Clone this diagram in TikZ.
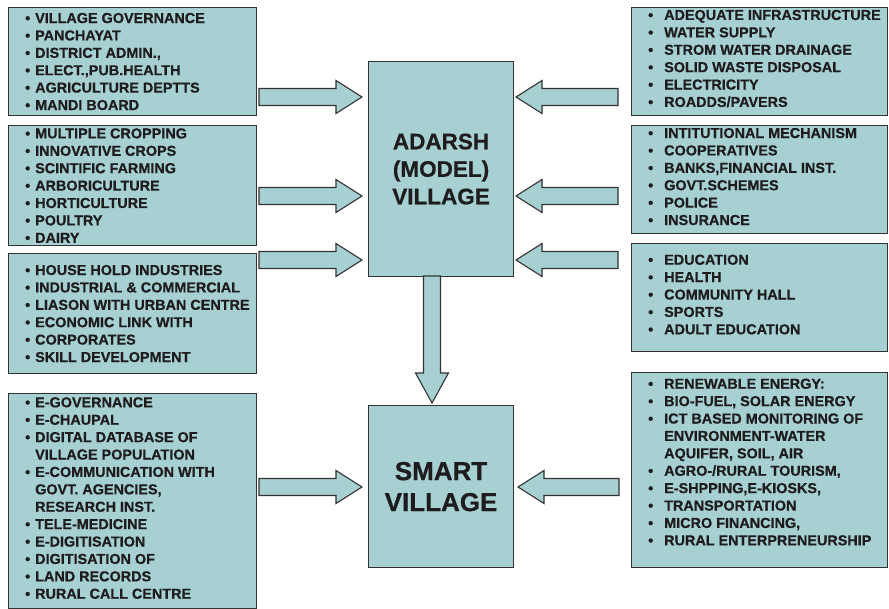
\documentclass[tikz,border=0pt]{standalone}
\usepackage{fontspec}
\setmainfont{Liberation Sans}[BoldFeatures={FakeBold=0.6}]
\usetikzlibrary{calc,positioning}
\definecolor{boxfill}{HTML}{A7D0D3}
\definecolor{edge}{HTML}{333333}
\definecolor{ink}{HTML}{1E1C1D}
\newcommand\lbul{\makebox[10pt][l]{\textbullet}}
\newcommand\lgap{\hspace*{10pt}}
\newcommand\rbul{\makebox[16pt][l]{\textbullet}}
\newcommand\rgap{\hspace*{16pt}}
\newcommand\blockarrow[3][26pt]{%
    \path ($(#3)!#1!(#2)$) coordinate (hb);
    \draw[blockarr] ($(#2)!8.5pt!90:(#3)$) -- ($(hb)!8.5pt!90:(#3)$)
        -- ($(hb)!16.5pt!90:(#3)$) -- (#3) -- ($(hb)!16.5pt!-90:(#3)$)
        -- ($(hb)!8.5pt!-90:(#3)$) -- ($(#2)!8.5pt!-90:(#3)$) -- cycle;}
\tikzset{
    listbox/.style =    {rectangle,
                        fill=boxfill,
                        draw=edge,
                        line width=1.1pt,
                        anchor=north west,
                        inner sep=0pt},
    listtext/.style =   {anchor=west,
                        align=left,
                        inner sep=0pt,
                        text=ink,
                        font=\fontsize{14.4}{17.4}\selectfont\bfseries},
    hub/.style =        {rectangle,
                        fill=boxfill,
                        draw=edge,
                        line width=1.1pt,
                        text=ink,
                        align=center,
                        minimum width=145pt},
    blockarr/.style =   {fill=boxfill,
                        draw=edge,
                        line width=1.1pt,
                        line join=miter}}
\begin{document}
\begin{tikzpicture}[x=1pt,y=-1pt]
    \useasboundingbox (0,0) rectangle (889,609);
    % left column
    \node[listbox, minimum width=248pt, minimum height=108pt] (gov)    at (8,7)   {};
    \node[listbox, minimum width=248pt, minimum height=120pt] (farm)   at (8,125) {};
    \node[listbox, minimum width=248pt, minimum height=120pt] (indus)  at (8,253) {};
    \node[listbox, minimum width=248pt, minimum height=215pt] (egov)   at (8,393) {};
    % right column
    \node[listbox, minimum width=256pt, minimum height=108pt] (infra)  at (631,7)   {};
    \node[listbox, minimum width=256pt, minimum height=108pt] (inst)   at (631,125) {};
    \node[listbox, minimum width=256pt, minimum height=108pt] (social) at (631,243) {};
    \node[listbox, minimum width=256pt, minimum height=195pt] (energy) at (631,372) {};
    % lists
    \node[listtext] (govtxt) at ($(gov.west)+(17,0)$)
        {\lbul VILLAGE GOVERNANCE\\ \lbul PANCHAYAT\\ \lbul DISTRICT ADMIN.,\\
         \lbul ELECT.,PUB.HEALTH\\ \lbul AGRICULTURE DEPTTS\\ \lbul MANDI BOARD};
    \node[listtext] (farmtxt) at ($(farm.west)+(17,0)$)
        {\lbul MULTIPLE CROPPING\\ \lbul INNOVATIVE CROPS\\ \lbul SCINTIFIC FARMING\\
         \lbul ARBORICULTURE\\ \lbul HORTICULTURE\\ \lbul POULTRY\\ \lbul DAIRY};
    \node[listtext] (industxt) at ($(indus.west)+(17,0)$)
        {\lbul HOUSE HOLD INDUSTRIES\\ \lbul INDUSTRIAL \& COMMERCIAL\\
         \lbul LIASON WITH URBAN CENTRE\\ \lbul ECONOMIC LINK WITH\\
         \lbul CORPORATES\\ \lbul SKILL DEVELOPMENT};
    \node[listtext] (egovtxt) at ($(egov.west)+(17,-3)$)
        {\lbul E-GOVERNANCE\\ \lbul E-CHAUPAL\\ \lbul DIGITAL DATABASE OF\\
         \lgap VILLAGE POPULATION\\ \lbul E-COMMUNICATION WITH\\ \lgap GOVT. AGENCIES,\\
         \lgap RESEARCH INST.\\ \lbul TELE-MEDICINE\\ \lbul E-DIGITISATION\\
         \lbul DIGITISATION OF\\ \lbul LAND RECORDS\\ \lbul RURAL CALL CENTRE};
    \node[listtext] (infratxt) at ($(infra.west)+(17,-3)$)
        {\rbul ADEQUATE INFRASTRUCTURE\\ \rbul WATER SUPPLY\\ \rbul STROM WATER DRAINAGE\\
         \rbul SOLID WASTE DISPOSAL\\ \rbul ELECTRICITY\\ \rbul ROADDS/PAVERS};
    \node[listtext] (insttxt) at ($(inst.west)+(17,-3)$)
        {\rbul INTITUTIONAL MECHANISM\\ \rbul COOPERATIVES\\ \rbul BANKS,FINANCIAL INST.\\
         \rbul GOVT.SCHEMES\\ \rbul POLICE\\ \rbul INSURANCE};
    \node[listtext] (socialtxt) at ($(social.west)+(17,-3)$)
        {\rbul EDUCATION\\ \rbul HEALTH\\ \rbul COMMUNITY HALL\\ \rbul SPORTS\\
         \rbul ADULT EDUCATION};
    \node[listtext] (energytxt) at ($(energy.west)+(17,-8)$)
        {\rbul RENEWABLE ENERGY:\\ \rbul BIO-FUEL, SOLAR ENERGY\\ \rbul ICT BASED MONITORING OF\\
         \rgap ENVIRONMENT-WATER\\ \rgap AQUIFER, SOIL, AIR\\ \rbul AGRO-/RURAL TOURISM,\\
         \rbul E-SHPPING,E-KIOSKS,\\ \rbul TRANSPORTATION\\ \rbul MICRO FINANCING,\\
         \rbul RURAL ENTERPRENEURSHIP};
    % centre
    \node[hub, minimum height=215pt, anchor=north west,
          font=\fontsize{22.5}{27.5}\selectfont\bfseries] (adarsh) at (368,61)
        {ADARSH\\(MODEL)\\VILLAGE};
    \node[hub, minimum height=162pt, below=128pt of adarsh,
          font=\fontsize{26}{31}\selectfont\bfseries] (smart)
        {SMART\\VILLAGE};
    % arrows
    \coordinate (gov-a)    at (259,97);  \coordinate (adarsh-a) at (362,97);
    \coordinate (farm-a)   at (259,196); \coordinate (adarsh-b) at (362,196);
    \coordinate (indus-a)  at (259,260); \coordinate (adarsh-c) at (362,260);
    \coordinate (infra-a)  at (618,97);  \coordinate (adarsh-d) at (516,97);
    \coordinate (inst-a)   at (618,196); \coordinate (adarsh-e) at (516,196);
    \coordinate (social-a) at (618,260); \coordinate (adarsh-f) at (516,260);
    \coordinate (egov-a)   at (259,487); \coordinate (smart-a)  at (362,487);
    \coordinate (energy-a) at (619,487); \coordinate (smart-b)  at (518,487);
    \coordinate (adarsh-g) at (432,276); \coordinate (smart-c)  at (432,403);
    \blockarrow{gov-a}{adarsh-a}
    \blockarrow{farm-a}{adarsh-b}
    \blockarrow{indus-a}{adarsh-c}
    \blockarrow{infra-a}{adarsh-d}
    \blockarrow{inst-a}{adarsh-e}
    \blockarrow{social-a}{adarsh-f}
    \blockarrow{egov-a}{smart-a}
    \blockarrow{energy-a}{smart-b}
    \blockarrow[30pt]{adarsh-g}{smart-c}
\end{tikzpicture}
\end{document}
